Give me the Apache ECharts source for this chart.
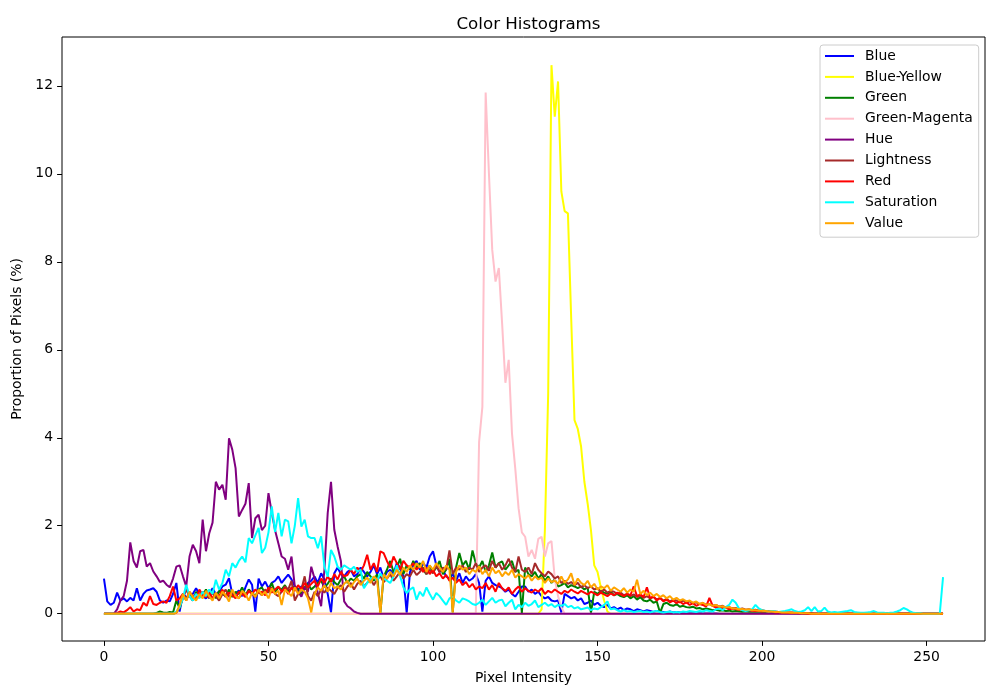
<!DOCTYPE html>
<html>
<head>
<meta charset="utf-8">
<title>Color Histograms</title>
<script src="https://cdn.jsdelivr.net/npm/echarts@6.0.0/dist/echarts.min.js"></script>
<style>
  html, body { margin: 0; padding: 0; background: #fff; }
  #chart { width: 1000px; height: 700px; }
</style>
</head>
<body>
<div id="chart"></div>
<script>
// histogram bins 0..255, proportion of pixels (%) per bin
var seriesNames = ['Blue', 'Blue-Yellow', 'Green', 'Green-Magenta', 'Hue', 'Lightness', 'Red', 'Saturation', 'Value'];
var seriesColors = ['#0000ff', '#ffff00', '#008000', '#ffc0cb', '#800080', '#a52a2a', '#ff0000', '#00ffff', '#ffa500'];
var xTicks = [0, 50, 100, 150, 200, 250];
var yTicks = [0, 2, 4, 6, 8, 10, 12];

var blue = [
  0.80,0.28,0.20,0.25,0.48,0.30,0.35,0.28,0.36,0.30,0.58,0.30,0.45,0.53,0.55,0.58,
  0.50,0.30,0.25,0.30,0.28,0.45,0.70,0.05,0.45,0.38,0.40,0.45,0.58,0.45,0.40,0.35,
  0.45,0.58,0.45,0.50,0.62,0.66,0.81,0.45,0.45,0.53,0.40,0.60,0.78,0.66,0.05,0.80,
  0.62,0.73,0.58,0.70,0.75,0.85,0.70,0.80,0.89,0.78,0.62,0.55,0.62,0.58,0.70,0.75,
  0.85,0.70,0.92,0.78,0.45,0.03,0.92,1.05,0.90,0.85,0.95,1.00,0.85,0.90,1.05,0.95,
  0.85,0.95,1.10,0.90,1.05,0.80,0.95,1.00,0.90,1.15,1.05,0.85,0.02,0.95,1.10,1.20,
  1.00,1.15,1.05,1.30,1.42,1.10,0.95,1.00,0.85,0.80,0.90,0.75,0.92,0.70,0.85,0.75,
  0.80,0.90,0.70,0.05,0.75,0.85,0.70,0.65,0.62,0.58,0.50,0.55,0.45,0.39,0.50,0.62,
  0.62,0.50,0.55,0.45,0.50,0.40,0.35,0.38,0.30,0.28,0.30,0.03,0.45,0.40,0.35,0.38,
  0.30,0.35,0.22,0.25,0.30,0.20,0.25,0.18,0.15,0.20,0.12,0.15,0.10,0.14,0.08,0.12,
  0.10,0.06,0.10,0.08,0.05,0.08,0.06,0.04,0.06,0.05,0.04,0.03,0.05,0.03,0.04,0.03,
  0.02,0.03,0.02,0.02,0.01,0.02,0.01,0.01,0.01,0.01,0.01,0,0,0,0,0,
  0,0,0,0,0,0,0,0,0,0,0,0,0,0,0,0,
  0,0,0,0,0,0,0,0,0,0,0,0,0,0,0,0,
  0,0,0,0,0,0,0,0,0,0,0,0,0,0,0,0,
  0,0,0,0,0,0,0,0,0,0,0,0,0,0,0,0
];

var blueYellow = [
  0,0,0,0,0,0,0,0,0,0,0,0,0,0,0,0,
  0,0,0,0,0,0,0,0,0,0,0,0,0,0,0,0,
  0,0,0,0,0,0,0,0,0,0,0,0,0,0,0,0,
  0,0,0,0,0,0,0,0,0,0,0,0,0,0,0,0,
  0,0,0,0,0,0,0,0,0,0,0,0,0,0,0,0,
  0,0,0,0,0,0,0,0,0,0,0,0,0,0,0,0,
  0,0,0,0,0,0,0,0,0,0,0,0,0,0,0,0,
  0,0,0,0,0,0,0,0,0,0,0,0,0,0,0,0,
  0,0,0,0,0,0.1,1.9,5.0,12.47,11.3,12.1,9.6,9.15,9.1,6.7,4.4,
  4.2,3.8,3.0,2.5,1.9,1.1,0.95,0.6,0.3,0.05,0,0,0,0,0,0,
  0,0,0,0,0,0,0,0,0,0,0,0,0,0,0,0,
  0,0,0,0,0,0,0,0,0,0,0,0,0,0,0,0,
  0,0,0,0,0,0,0,0,0,0,0,0,0,0,0,0,
  0,0,0,0,0,0,0,0,0,0,0,0,0,0,0,0,
  0,0,0,0,0,0,0,0,0,0,0,0,0,0,0,0,
  0,0,0,0,0,0,0,0,0,0,0,0,0,0,0,0
];

var green = [
  0,0,0,0,0,0,0,0,0,0,0,0,0,0,0,0,
  0.02,0.05,0.03,0.02,0.04,0.03,0.30,0.12,0.40,0.35,0.45,0.30,0.50,0.38,0.42,0.55,
  0.40,0.48,0.35,0.52,0.45,0.40,0.55,0.38,0.50,0.45,0.60,0.42,0.55,0.48,0.40,0.55,
  0.60,0.45,0.52,0.70,0.48,0.60,0.55,0.65,0.50,0.58,0.62,0.55,0.45,0.60,0.68,0.55,
  0.62,0.70,0.75,0.60,0.68,0.80,0.72,0.65,0.78,0.85,0.70,0.80,0.75,0.85,0.90,0.80,
  0.95,0.85,0.75,0.90,0.02,0.85,1.00,1.20,0.95,1.05,1.25,0.90,1.10,1.00,1.20,1.05,
  1.15,1.00,0.90,1.10,0.95,1.05,1.20,0.90,1.00,1.25,0.03,1.05,1.38,1.10,1.20,1.00,
  1.44,1.15,1.05,1.20,0.95,1.10,1.39,1.05,1.15,1.19,1.00,1.10,1.20,0.95,1.00,0.02,
  1.05,0.90,0.85,0.95,0.80,0.90,0.75,0.85,0.70,0.78,0.62,0.65,0.70,0.60,0.65,0.62,
  0.58,0.62,0.55,0.60,0.02,0.50,0.45,0.52,0.48,0.45,0.50,0.42,0.45,0.40,0.38,0.42,
  0.35,0.40,0.32,0.38,0.30,0.28,0.32,0.25,0.28,0.02,0.22,0.25,0.20,0.18,0.22,0.16,
  0.18,0.15,0.14,0.16,0.12,0.13,0.10,0.12,0.10,0.08,0.09,0.07,0.08,0.06,0.07,0.05,
  0.06,0.05,0.04,0.05,0.04,0.03,0.04,0.03,0.02,0.03,0.02,0.02,0.02,0.01,0.02,0.01,
  0.01,0.01,0,0,0,0,0,0,0,0,0,0,0,0,0,0,
  0,0,0,0,0,0,0,0,0,0,0,0,0,0,0,0,
  0,0,0,0,0,0,0,0,0,0,0,0,0,0,0,0
];

var greenMagenta = [
  0,0,0,0,0,0,0,0,0,0,0,0,0,0,0,0,
  0,0,0,0,0,0,0,0,0,0,0,0,0,0,0,0,
  0,0,0,0,0,0,0,0,0,0,0,0,0,0,0,0,
  0,0,0,0,0,0,0,0,0,0,0,0,0,0,0,0,
  0,0,0,0,0,0,0,0,0,0,0,0,0,0,0,0,
  0,0,0,0,0,0,0,0,0,0,0,0,0,0,0,0,
  0,0,0,0,0,0,0,0,0,0,0,0,0,0,0,0,
  0,0,3.9,4.7,11.85,10.0,8.27,7.55,7.86,6.6,5.25,5.77,4.1,3.3,2.4,1.85,
  1.75,1.3,1.45,1.25,1.7,1.75,1.3,1.6,1.65,0.8,0.4,0.15,0,0,0,0,
  0,0,0,0,0,0,0,0,0,0,0,0,0,0,0,0,
  0,0,0,0,0,0,0,0,0,0,0,0,0,0,0,0,
  0,0,0,0,0,0,0,0,0,0,0,0,0,0,0,0,
  0,0,0,0,0,0,0,0,0,0,0,0,0,0,0,0,
  0,0,0,0,0,0,0,0,0,0,0,0,0,0,0,0,
  0,0,0,0,0,0,0,0,0,0,0,0,0,0,0,0,
  0,0,0,0,0,0,0,0,0,0,0,0,0,0,0,0
];

var hue = [
  0,0,0,0,0.1,0.3,0.4,0.75,1.62,1.2,1.05,1.42,1.45,1.07,1.15,0.96,
  0.85,0.72,0.75,0.66,0.6,0.8,1.07,1.1,0.85,0.62,1.3,1.57,1.42,1.15,2.14,1.42,
  1.83,2.07,3.0,2.82,2.93,2.59,3.99,3.73,3.31,2.21,2.36,2.5,2.97,1.72,2.17,2.25,
  1.9,2.0,2.74,2.3,1.9,1.6,1.3,1.25,1.0,1.3,0.62,0.5,0.39,0.6,0.5,1.07,
  0.8,0.47,0.17,1.0,2.29,3.0,1.91,1.53,1.2,0.28,0.17,0.12,0.05,0.02,0,0,
  0,0,0,0,0,0,0,0,0,0,0,0,0,0,0,0,
  0,0,0,0,0,0,0,0,0,0,0,0,0,0,0,0,
  0,0,0,0,0,0,0,0,0,0,0,0,0,0,0,0,
  0,0,0,0,0,0,0,0,0,0,0,0,0,0,0,0,
  0,0,0,0,0,0,0,0,0,0,0,0,0,0,0,0,
  0,0,0,0,0,0,0,0,0,0,0,0,0,0,0,0,
  0,0,0,0,0,0,0,0,0,0,0,0,0,0,0,0,
  0,0,0,0,0,0,0,0,0,0,0,0,0,0,0,0,
  0,0,0,0,0,0,0,0,0,0,0,0,0,0,0,0,
  0,0,0,0,0,0,0,0,0,0,0,0,0,0,0,0,
  0,0,0,0,0,0,0,0,0,0,0,0,0,0,0,0
];

var lightness = [
  0,0,0,0,0,0,0,0,0,0,0,0,0,0,0,0,
  0,0,0,0,0,0,0.02,0.15,0.35,0.55,0.40,0.30,0.45,0.38,0.50,0.42,
  0.35,0.48,0.40,0.30,0.45,0.55,0.38,0.50,0.42,0.35,0.48,0.40,0.52,0.45,0.38,0.50,
  0.42,0.55,0.48,0.60,0.45,0.40,0.50,0.62,0.55,0.75,0.30,0.45,0.55,0.85,0.40,0.30,
  0.50,0.40,0.55,0.48,0.60,0.52,0.45,0.58,0.65,0.50,0.62,0.70,0.55,0.68,0.75,0.62,
  0.70,0.80,0.65,0.78,0.85,0.72,0.80,0.90,0.75,0.85,0.95,0.80,0.90,0.85,1.00,0.88,
  0.95,1.05,0.90,1.00,0.92,1.10,0.95,1.05,1.00,1.44,0.90,1.05,1.00,1.10,0.95,1.05,
  1.00,1.15,0.95,1.05,1.10,0.98,1.20,1.05,1.15,1.00,1.10,1.25,1.05,0.95,1.30,1.00,
  0.95,1.05,0.90,1.15,1.00,0.92,0.85,0.96,0.90,0.80,0.85,0.70,0.75,0.68,0.72,0.65,
  0.70,0.60,0.65,0.58,0.62,0.55,0.58,0.50,0.55,0.48,0.52,0.50,0.45,0.48,0.42,0.45,
  0.40,0.44,0.38,0.42,0.36,0.40,0.35,0.38,0.32,0.36,0.30,0.34,0.28,0.32,0.30,0.26,
  0.30,0.25,0.28,0.24,0.26,0.22,0.24,0.20,0.22,0.18,0.20,0.16,0.18,0.14,0.15,0.12,
  0.13,0.10,0.12,0.09,0.10,0.08,0.09,0.07,0.08,0.06,0.06,0.05,0.05,0.04,0.04,0.03,
  0.03,0.03,0.02,0.02,0.02,0.01,0.01,0.01,0,0,0,0,0,0,0,0,
  0,0,0,0,0,0,0,0,0,0,0,0,0,0,0,0,
  0,0,0,0,0,0,0,0,0,0,0,0,0,0,0,0
];

var red = [
  0,0,0,0,0.02,0.05,0.03,0.08,0.15,0.05,0.10,0.08,0.25,0.18,0.40,0.22,
  0.20,0.25,0.28,0.25,0.40,0.62,0.30,0.35,0.45,0.30,0.50,0.40,0.35,0.55,0.42,0.38,
  0.50,0.35,0.45,0.40,0.55,0.38,0.48,0.42,0.35,0.50,0.45,0.38,0.52,0.45,0.55,0.48,
  0.50,0.42,0.60,0.48,0.55,0.62,0.50,0.58,0.45,0.60,0.52,0.65,0.55,0.70,0.60,0.68,
  0.75,0.62,0.80,0.70,0.85,0.72,0.90,0.78,0.95,0.85,0.88,1.00,0.90,1.05,0.95,1.10,
  1.34,1.00,1.15,0.95,1.42,1.38,1.20,1.05,1.30,1.15,1.00,1.20,1.10,1.05,1.15,1.00,
  1.10,0.95,1.05,0.90,1.00,0.85,0.92,0.80,0.88,0.75,0.82,0.70,0.78,0.65,0.72,0.60,
  0.68,0.55,0.62,0.58,0.70,0.55,0.65,0.50,0.70,0.58,0.52,0.60,0.45,0.55,0.62,0.50,
  0.58,0.52,0.48,0.55,0.50,0.58,0.45,0.52,0.48,0.55,0.50,0.45,0.52,0.48,0.55,0.50,
  0.46,0.52,0.48,0.44,0.50,0.46,0.42,0.48,0.44,0.40,0.46,0.42,0.48,0.44,0.40,0.45,
  0.42,0.62,0.40,0.44,0.38,0.60,0.35,0.40,0.30,0.36,0.28,0.32,0.26,0.30,0.24,0.28,
  0.22,0.26,0.20,0.24,0.18,0.22,0.20,0.16,0.36,0.18,0.14,0.16,0.12,0.14,0.10,0.12,
  0.10,0.09,0.10,0.08,0.08,0.07,0.06,0.07,0.05,0.06,0.04,0.05,0.03,0.04,0.03,0.03,
  0.02,0.02,0.02,0.01,0.01,0.01,0,0,0,0,0,0,0,0,0,0,
  0,0,0,0,0,0,0,0,0,0,0,0,0,0,0,0,
  0,0,0,0,0,0,0,0,0,0,0,0,0,0,0,0
];

var saturation = [
  0,0,0,0,0,0,0,0,0,0,0,0,0,0,0,0,
  0,0,0,0,0,0,0.05,0.15,0.35,0.66,0.40,0.30,0.45,0.35,0.50,0.40,
  0.55,0.45,0.77,0.55,0.70,1.00,0.85,1.15,1.05,1.20,1.30,1.17,1.72,1.60,1.78,1.95,
  1.38,1.50,1.85,2.44,1.86,2.29,1.76,2.14,2.10,1.60,2.00,2.63,1.98,2.14,1.76,1.72,
  1.72,1.49,1.76,1.07,0.84,1.45,1.30,1.07,1.00,1.10,1.05,1.00,1.07,0.95,1.00,0.58,
  0.70,0.80,0.84,0.75,0.92,0.80,0.75,0.70,0.85,1.10,0.85,0.60,0.47,0.55,0.60,0.32,
  0.50,0.40,0.60,0.45,0.32,0.47,0.40,0.30,0.20,0.35,0.39,0.30,0.25,0.35,0.32,0.28,
  0.22,0.20,0.25,0.32,0.20,0.28,0.36,0.25,0.30,0.32,0.17,0.25,0.32,0.10,0.20,0.15,
  0.25,0.18,0.22,0.30,0.15,0.20,0.25,0.18,0.22,0.15,0.20,0.18,0.22,0.15,0.18,0.12,
  0.15,0.10,0.12,0.14,0.08,0.12,0.10,0.15,0.20,0.28,0.10,0.12,0.08,0.05,0.08,0.05,
  0.06,0.04,0.05,0.06,0.04,0.05,0.03,0.05,0.06,0.04,0.03,0.04,0.05,0.03,0.04,0.03,
  0.05,0.04,0.06,0.05,0.04,0.06,0.05,0.08,0.06,0.05,0.10,0.12,0.08,0.15,0.20,0.32,
  0.25,0.12,0.08,0.06,0.08,0.10,0.20,0.12,0.08,0.06,0.05,0.06,0.05,0.04,0.05,0.06,
  0.08,0.10,0.06,0.04,0.05,0.08,0.15,0.06,0.15,0.05,0.06,0.14,0.05,0.03,0.04,0.03,
  0.04,0.05,0.06,0.08,0.04,0.03,0.02,0.02,0.03,0.04,0.06,0.03,0.02,0.02,0.01,0.02,
  0.03,0.05,0.08,0.13,0.10,0.05,0.02,0.01,0.01,0,0,0,0,0,0,0.83
];

var value = [
  0,0,0,0,0,0,0,0,0,0,0,0,0,0,0,0,
  0,0,0,0,0,0,0.02,0.20,0.45,0.30,0.50,0.38,0.30,0.45,0.35,0.52,
  0.40,0.30,0.48,0.35,0.50,0.42,0.28,0.55,0.40,0.35,0.52,0.45,0.30,0.48,0.38,0.55,
  0.42,0.50,0.35,0.58,0.45,0.52,0.20,0.55,0.48,0.40,0.60,0.45,0.55,0.50,0.35,0.03,
  0.45,0.60,0.52,0.65,0.50,0.70,0.58,0.62,0.55,0.68,0.75,0.60,0.72,0.80,0.65,0.75,
  0.82,0.70,0.85,0.78,0.02,0.90,0.80,0.95,0.85,1.00,0.88,1.05,0.95,1.10,1.00,1.15,
  1.05,1.20,0.95,1.10,1.00,1.15,1.05,0.95,1.10,1.00,0.03,0.95,1.10,1.00,1.05,0.90,
  1.00,0.95,1.08,0.90,1.00,0.85,1.05,0.92,0.98,0.85,0.95,0.88,1.00,0.82,0.90,0.85,
  0.80,0.88,0.75,0.85,0.78,0.82,0.70,0.80,0.72,0.75,0.68,0.85,0.70,0.78,0.92,0.65,
  0.80,0.70,0.65,0.75,0.60,0.68,0.55,0.62,0.58,0.65,0.52,0.60,0.55,0.50,0.58,0.48,
  0.55,0.50,0.77,0.45,0.52,0.42,0.48,0.40,0.45,0.38,0.42,0.35,0.40,0.32,0.36,0.30,
  0.33,0.28,0.30,0.25,0.28,0.22,0.25,0.20,0.22,0.18,0.20,0.16,0.17,0.14,0.15,0.12,
  0.12,0.10,0.11,0.09,0.10,0.08,0.08,0.07,0.07,0.06,0.05,0.05,0.04,0.04,0.03,0.03,
  0.03,0.02,0.02,0.02,0.01,0.01,0.01,0,0,0,0,0,0,0,0,0,
  0,0,0,0,0,0,0,0,0,0,0,0,0,0,0,0,
  0,0,0,0,0,0,0,0,0,0,0,0,0,0,0,0
];

var seriesValues = [blue, blueYellow, green, greenMagenta, hue, lightness, red, saturation, value];

var FONT = 'DejaVu Sans';

function toPairs(arr) {
  // bin index -> [x, y]
  return arr.map(function (v, i) { return [i, v]; });
}

function buildOption() {
  var series = seriesNames.map(function (name, k) {
    return {
      name: name,
      type: 'line',
      data: toPairs(seriesValues[k]),
      showSymbol: false,
      symbol: 'none',
      lineStyle: { color: seriesColors[k], width: 2 },
      itemStyle: { color: seriesColors[k] },
      emphasis: { disabled: true }
    };
  });

  return {
    animation: false,
    backgroundColor: '#ffffff',
    textStyle: { fontFamily: FONT, color: '#000' },
    title: {
      text: 'Color Histograms',
      left: 523.5,
      top: 11,
      textAlign: 'center',
      textStyle: { fontFamily: FONT, fontSize: 16.7, fontWeight: 'normal', color: '#000' }
    },
    legend: {
      orient: 'vertical',
      left: 820,
      top: 45,
      data: seriesNames,
      icon: 'rect',
      itemWidth: 29,
      itemHeight: 2,
      itemGap: 4.9,
      padding: [3, 6, 6, 5],
      backgroundColor: '#ffffff',
      borderColor: '#cccccc',
      borderWidth: 1,
      borderRadius: 3,
      textStyle: { fontFamily: FONT, fontSize: 13.9, color: '#000', lineHeight: 16, padding: [0, 0, 0, 6] }
    },
    grid: {
      left: 62, right: 15, top: 37, bottom: 59,
      show: true, borderColor: '#000', borderWidth: 1, backgroundColor: 'transparent',
      containLabel: false
    },
    xAxis: {
      type: 'value',
      min: -12.75,
      max: 267.75,
      name: 'Pixel Intensity',
      nameLocation: 'middle',
      nameGap: 30,
      nameTextStyle: { fontFamily: FONT, fontSize: 13.9, color: '#000' },
      axisLine: { show: false, onZero: false },
      axisTick: { show: true, customValues: xTicks, length: 4.9, lineStyle: { color: '#000', width: 1 } },
      axisLabel: { customValues: xTicks, margin: 9, fontFamily: FONT, fontSize: 13.9, color: '#000' },
      splitLine: { show: false }
    },
    yAxis: {
      type: 'value',
      min: -0.62,
      max: 13.11,
      name: 'Proportion of Pixels (%)',
      nameLocation: 'middle',
      nameGap: 35,
      nameRotate: 90,
      nameTextStyle: { fontFamily: FONT, fontSize: 13.9, color: '#000' },
      axisLine: { show: false, onZero: false },
      axisTick: { show: true, customValues: yTicks, length: 4.9, lineStyle: { color: '#000', width: 1 } },
      axisLabel: { customValues: yTicks, margin: 9, fontFamily: FONT, fontSize: 13.9, color: '#000' },
      splitLine: { show: false }
    },
    series: series
  };
}

var chart = echarts.init(document.getElementById('chart'), null, { renderer: 'canvas' });
chart.setOption(buildOption());
</script>
</body>
</html>
